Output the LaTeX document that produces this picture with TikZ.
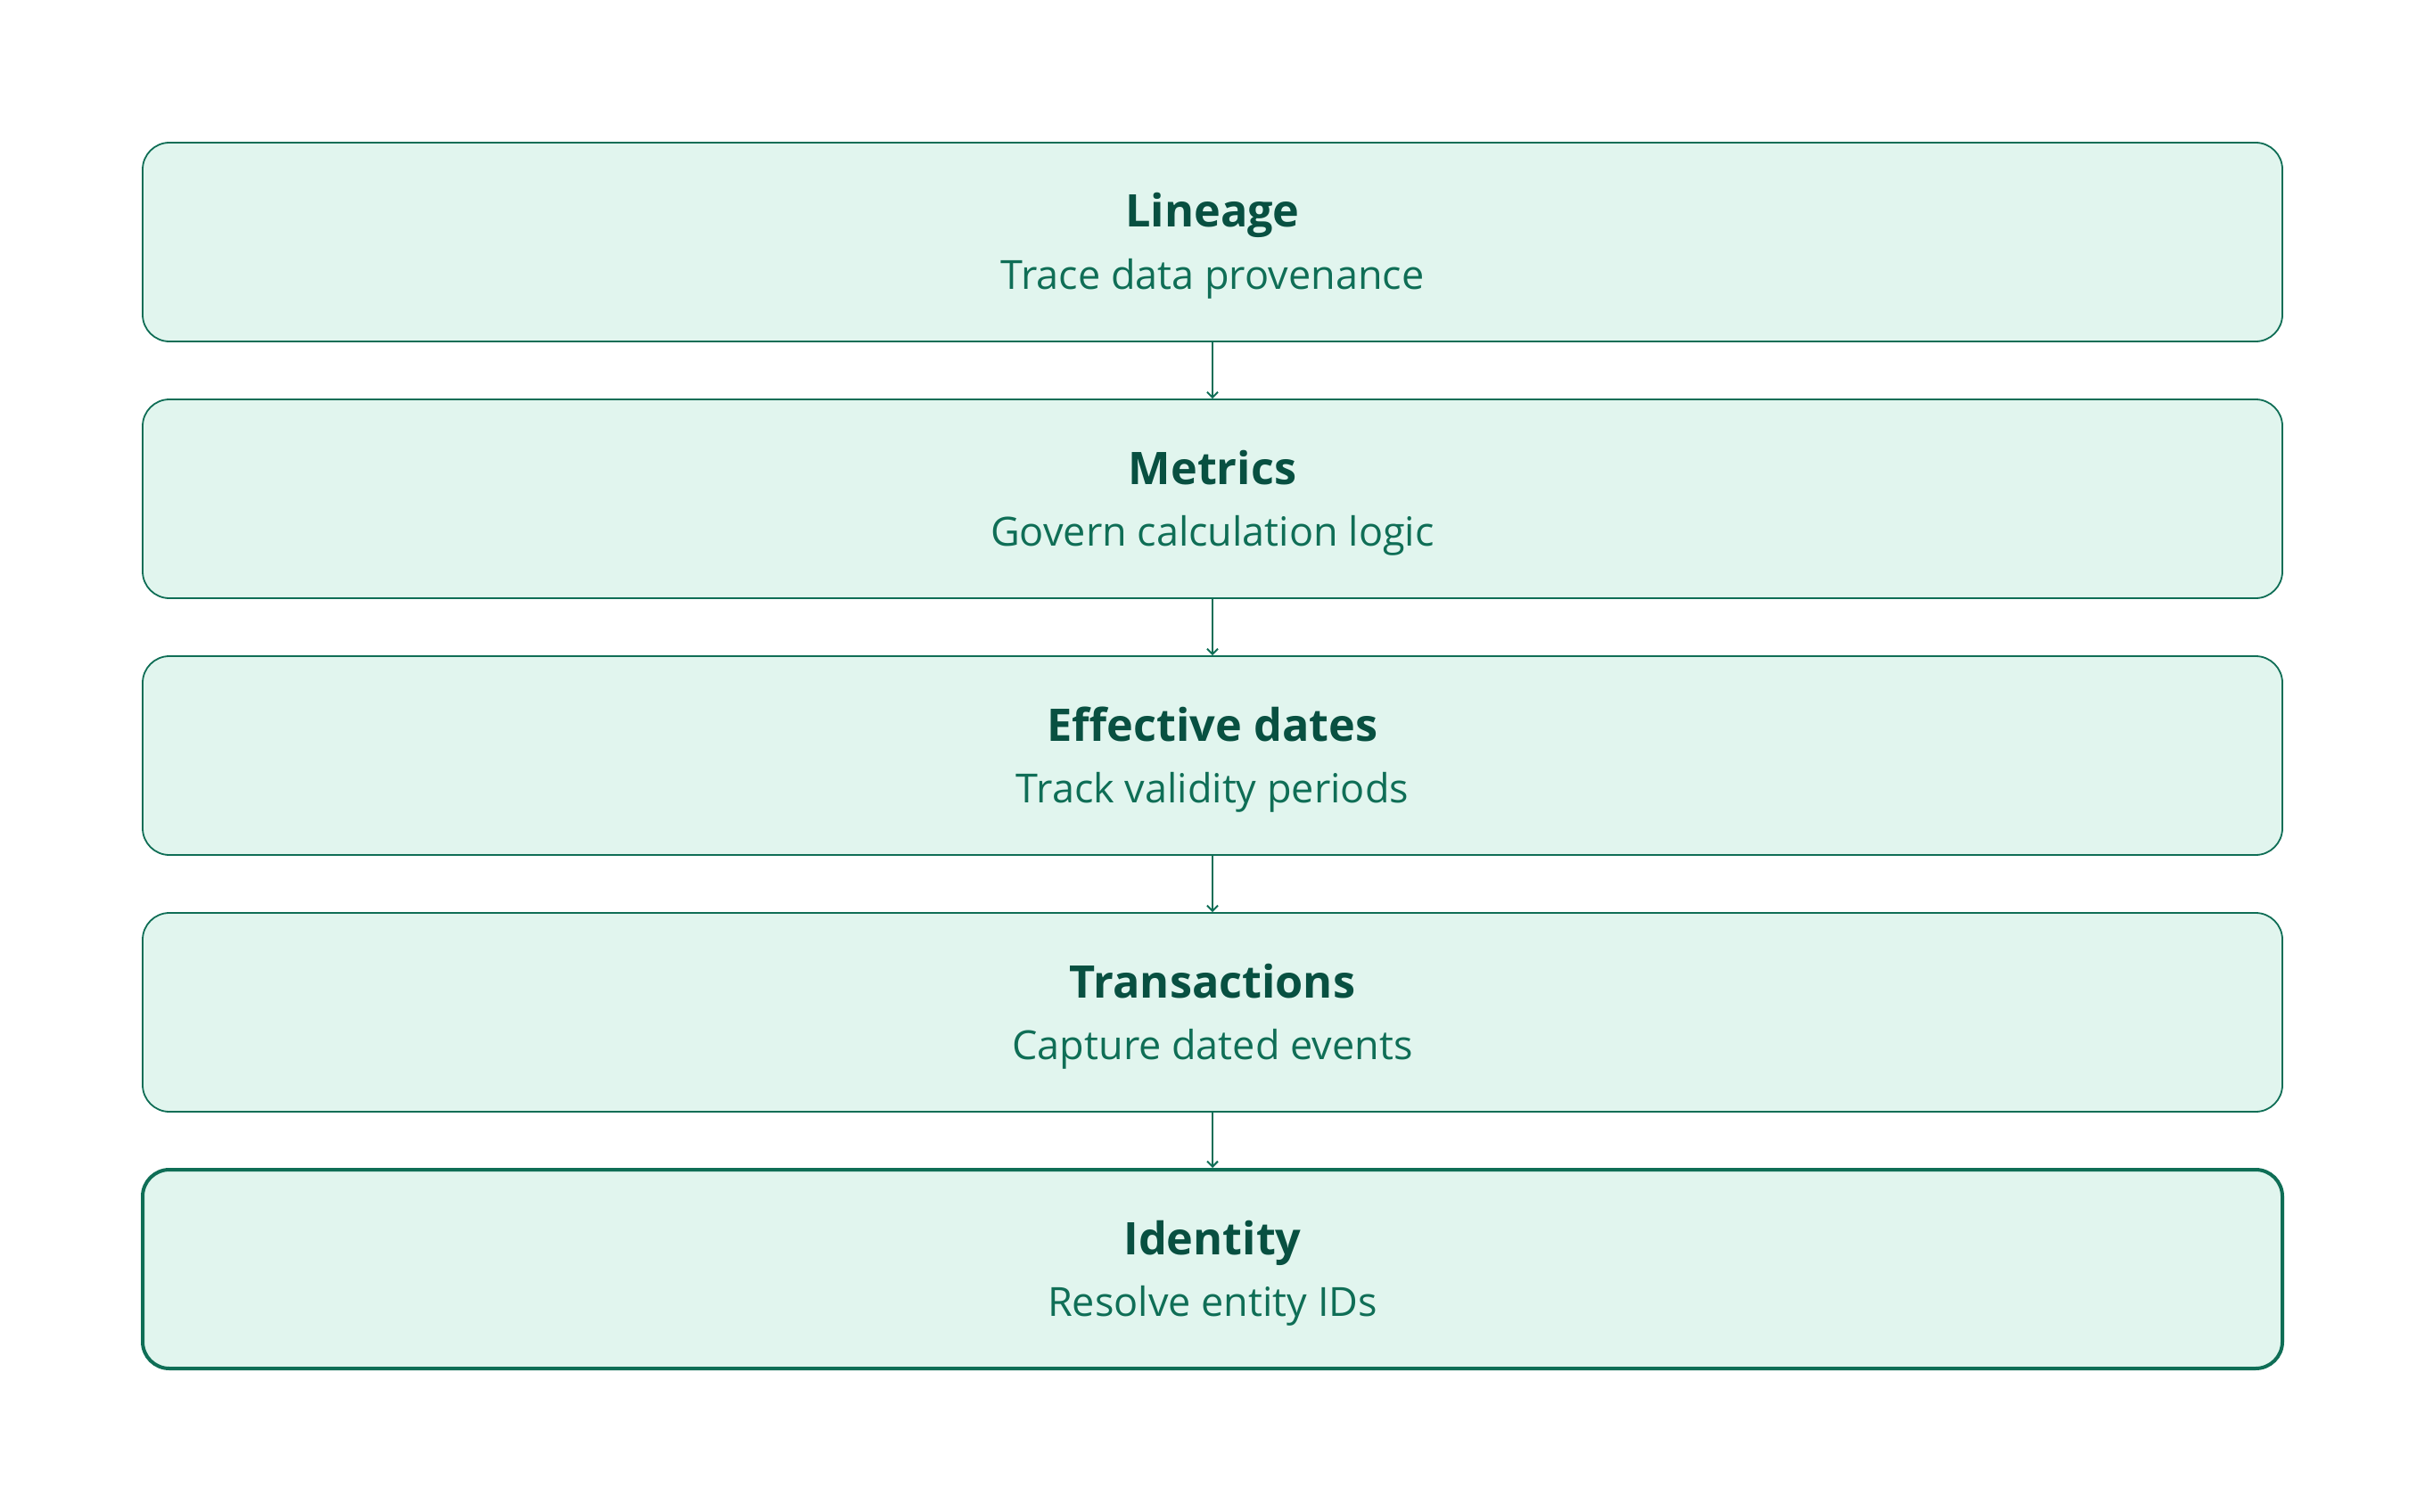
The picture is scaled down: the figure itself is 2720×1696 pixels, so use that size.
\documentclass[tikz,border=0pt]{standalone}
\usepackage{fontspec}
\IfFontExistsTF{Open Sans SemiBold}{%
  \setmainfont{Open Sans}[BoldFont={Open Sans SemiBold}]
  \newcommand\titlesize{\fontsize{26}{30}\selectfont}%
}{%
  \setmainfont{Open Sans}
  \newcommand\titlesize{\fontsize{25.2}{30}\selectfont}%
}
\usetikzlibrary{arrows.meta}
\definecolor{tealfill}{HTML}{E1F5EE}
\definecolor{tealline}{HTML}{0F6E56}
\definecolor{tealdark}{HTML}{085041}
\begin{document}
\begin{tikzpicture}[x=0.5pt,y=-0.5pt,
  layerbox/.style={draw=tealline, fill=tealfill, line width=0.9pt, rounded corners=15pt,
    minimum width=1200pt, minimum height=111.5pt, inner sep=0pt},
  basebox/.style={layerbox, line width=2pt},
  titletext/.style={anchor=base, inner sep=0pt, text=tealdark, font=\titlesize\bfseries},
  subtext/.style={anchor=base, inner sep=0pt, text=tealline, font=\fontsize{22.5}{26}\selectfont},
  link/.style={draw=tealline, line width=1pt, -{Straight Barb[length=3pt,width=6pt]}}]
\useasboundingbox (0,0) rectangle (2720,1696);
\fill[white] (0,0) rectangle (2720,1696);
% boxes
\node[layerbox] (b1) at (1360,271.5) {};
\node[layerbox] (b2) at (1360,559.5) {};
\node[layerbox] (b3) at (1360,847.5) {};
\node[layerbox] (b4) at (1360,1135.5) {};
\node[basebox]  (b5) at (1360,1423.5) {};
% texts
\node[titletext] (t1) at (1360,255) {Lineage};
\node[subtext]   (s1) at (1360,324) {Trace data provenance};
\node[titletext] (t2) at (1360,543) {Metrics};
\node[subtext]   (s2) at (1360,612) {Govern calculation logic};
\node[titletext] (t3) at (1360,831) {Effective dates};
\node[subtext]   (s3) at (1360,900) {Track validity periods};
\node[titletext] (t4) at (1360,1119) {Transactions};
\node[subtext]   (s4) at (1360,1188) {Capture dated events};
\node[titletext] (t5) at (1360,1407) {Identity};
\node[subtext]   (s5) at (1360,1476) {Resolve entity IDs};
% connectors
\draw[link] (b1.south) -- (b2.north);
\draw[link] (b2.south) -- (b3.north);
\draw[link] (b3.south) -- (b4.north);
\draw[link] (b4.south) -- (b5.north);
\end{tikzpicture}
\end{document}
